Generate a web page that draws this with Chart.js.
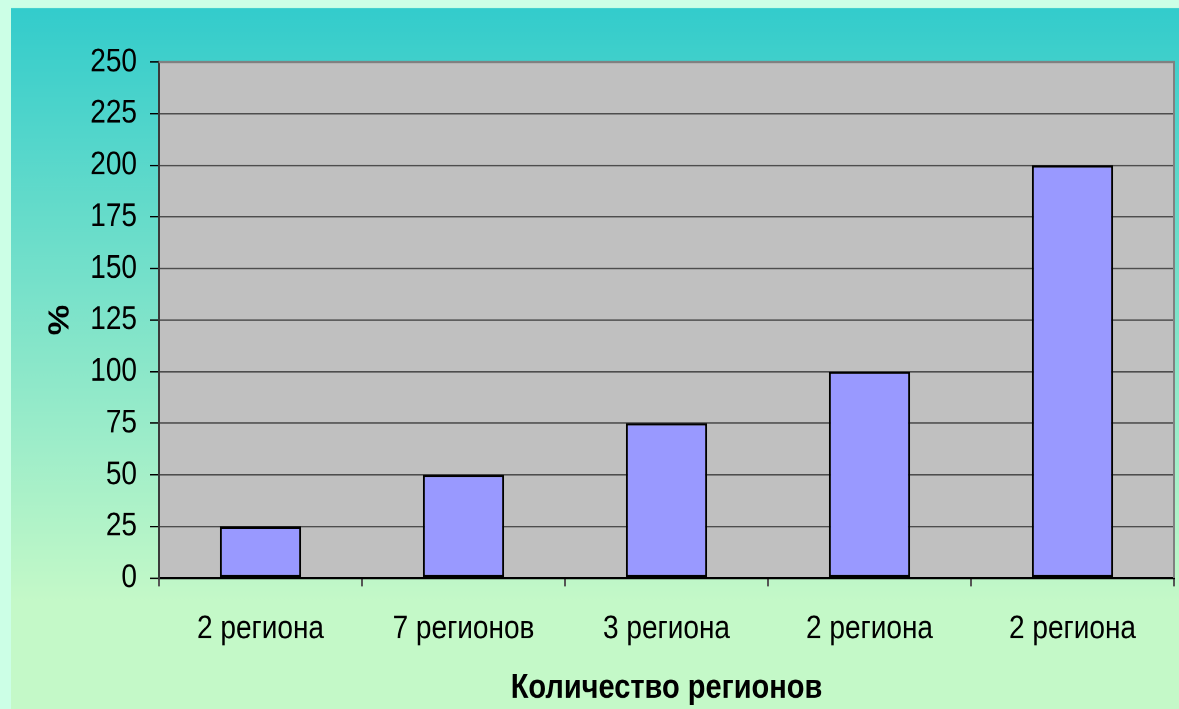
<!DOCTYPE html>
<html><head><meta charset="utf-8">
<script src="https://cdn.jsdelivr.net/npm/chart.js@4.4.0/dist/chart.umd.min.js"></script>
<style>
html,body{margin:0;padding:0;overflow:hidden;background:#ccffe6;width:1179px;height:709px}
#wrap{width:1179px;height:596px;transform-origin:0 0;transform:scaleY(1.18960)}
</style>
</head><body><div id="wrap"><canvas id="c" width="1179" height="596"></canvas></div>
<script>
const categories = ["2 региона", "7 регионов", "3 региона", "2 региона", "2 региона"];
const values = [25, 50, 75, 100, 200];
const yTicks = [0, 25, 50, 75, 100, 125, 150, 175, 200, 225, 250];
const xTitle = "Количество регионов";
const yTitle = "%";

const K = 709/596;              // vertical stretch applied by CSS
const FAM = '"Liberation Sans", Arial, sans-serif';
const TS = 28;

const bgPlugin = {
  id:'bg',
  beforeDraw(chart){
    const ctx=chart.ctx, a=chart.chartArea;
    ctx.save();
    ctx.fillStyle='#ccffe6'; ctx.fillRect(0,0,chart.width,chart.height);
    const top=8/K;
    const g=ctx.createLinearGradient(0,top,0,600/K);
    g.addColorStop(0,'#33cccc'); g.addColorStop(1,'#c4f9c8');
    ctx.fillStyle=g; ctx.fillRect(11,top,chart.width-11,chart.height-top);
    ctx.fillStyle='#c0c0c0'; ctx.fillRect(a.left,a.top,a.right-a.left,a.bottom-a.top);
    ctx.restore();
  },
  afterDraw(chart){
    const ctx=chart.ctx, a=chart.chartArea;
    ctx.save();
    ctx.strokeStyle='#808080'; ctx.lineWidth=2;
    ctx.beginPath(); ctx.moveTo(a.left,a.top); ctx.lineTo(a.right,a.top); ctx.lineTo(a.right,a.bottom); ctx.stroke();
    ctx.restore();
  }
};

new Chart(document.getElementById('c'), {
  type:'bar',
  data:{ labels:categories, datasets:[{ data:values, backgroundColor:'#9999ff', borderColor:'#000', borderWidth:2, borderSkipped:false, barPercentage:0.4, categoryPercentage:1 }]},
  options:{
    responsive:false, animation:false, devicePixelRatio:2,
    layout:{ padding:{ left:43, top:62/K, right:5, bottom:0 } },
    plugins:{ legend:{display:false}, tooltip:{enabled:false} },
    scales:{
      x:{
        afterFit(s){ s.height = 596 - 578/K; },
        grid:{ drawOnChartArea:false, drawTicks:true, tickLength:7, tickColor:'#555', offset:true, lineWidth:2 },
        border:{ color:'#000', width:2 },
        ticks:{ color:'#000', font:{ family:FAM, size:TS }, padding:19, maxRotation:0 },
        title:{ display:true, text:xTitle, color:'#000', font:{ family:FAM, size:29, weight:'bold' }, padding:{top:0,bottom:0} }
      },
      y:{
        min:0, max:250,
        afterBuildTicks(s){ s.ticks = yTicks.map(v=>({value:v})); },
        afterFit(s){ s.width = 159 - 43; },
        grid:{ color:(c)=> c.tick && c.tick.value===250 ? '#808080' : (c.tick && c.tick.value===0 ? '#000' : '#4d4d4d'), lineWidth:1.2, tickLength:9, tickColor:'#000' },
        border:{ color:'#3a3a3a', width:2 },
        ticks:{ color:'#000', font:{ family:FAM, size:TS }, padding:13 },
        title:{ display:true, text:yTitle, color:'#000', font:{ family:FAM, size:29, weight:'bold' }, padding:0 }
      }
    }
  },
  plugins:[bgPlugin]
});
</script></body></html>
